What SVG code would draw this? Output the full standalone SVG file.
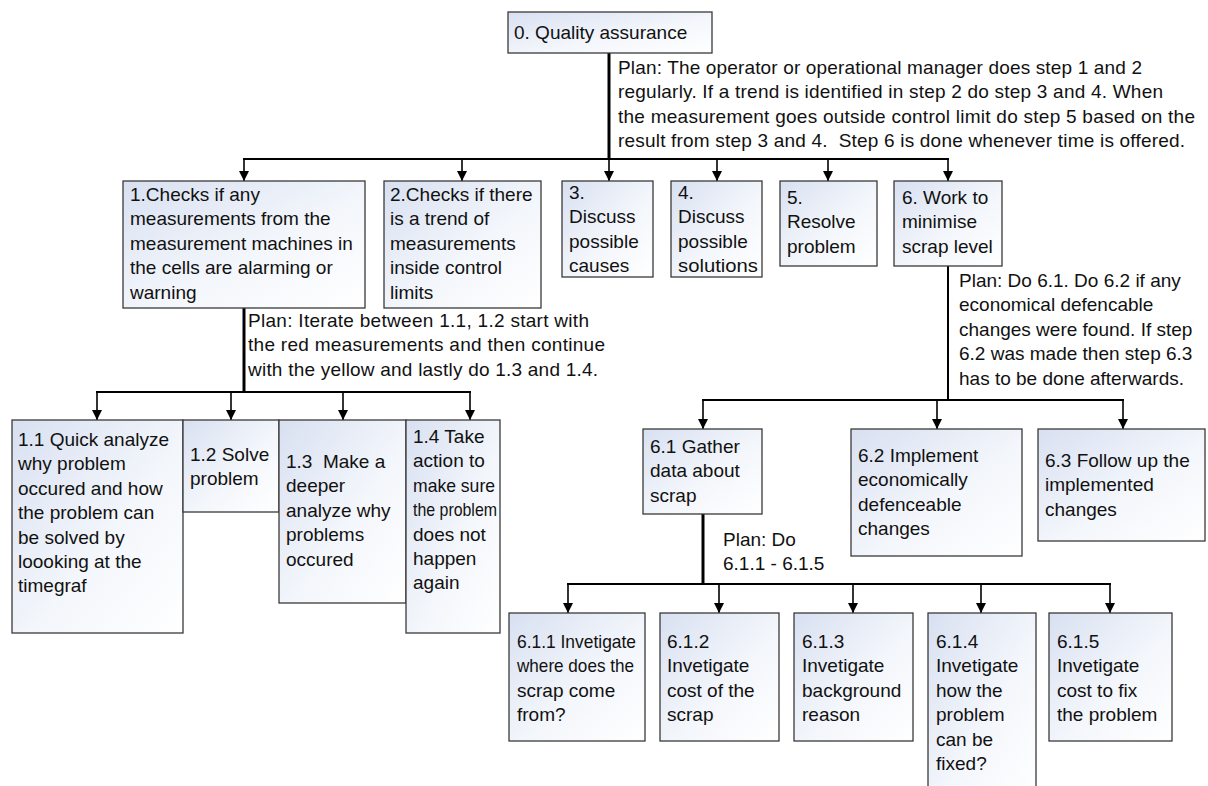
<svg xmlns="http://www.w3.org/2000/svg" width="1208" height="786" viewBox="0 0 1208 786">
  <defs>
    <linearGradient id="boxFill" x1="0" y1="0" x2="1" y2="1">
      <stop offset="0" stop-color="#d8e0f1"/>
      <stop offset="0.55" stop-color="#f3f6fb"/>
      <stop offset="1" stop-color="#ffffff"/>
    </linearGradient>
    <marker id="arrow" viewBox="0 0 10 10" refX="10" refY="5" markerWidth="10" markerHeight="11" markerUnits="userSpaceOnUse" orient="auto">
      <path d="M0,0 L10,5 L0,10 z" fill="#000"/>
    </marker>
    <style>
      .box { fill: url(#boxFill); stroke: #3a3a3a; stroke-width: 1.3; }
      text { font-family: "Liberation Sans", Arial, sans-serif; font-size: 19px; fill: #111; }
      .fit { }
      .trunk { stroke: #000; stroke-width: 3; fill: none; }
      .bar { stroke: #000; stroke-width: 2; fill: none; }
      .drop { stroke: #000; stroke-width: 1.6; fill: none; marker-end: url(#arrow); }
    </style>
  </defs>

  <rect width="1208" height="786" fill="#ffffff"/>

  <!-- connectors -->
  <g id="connectors">
    <!-- from 0 -->
    <line class="trunk" x1="609" y1="53" x2="609" y2="160"/>
    <line class="bar" x1="243" y1="159" x2="949" y2="159"/>
    <line class="drop" x1="244" y1="159" x2="244" y2="181"/>
    <line class="drop" x1="462" y1="159" x2="462" y2="181"/>
    <line class="drop" x1="609" y1="159" x2="609" y2="181"/>
    <line class="drop" x1="717" y1="159" x2="717" y2="181"/>
    <line class="drop" x1="828" y1="159" x2="828" y2="181"/>
    <line class="drop" x1="948" y1="159" x2="948" y2="181"/>
    <!-- from 1 -->
    <line class="trunk" x1="244" y1="308" x2="244" y2="393"/>
    <line class="bar" x1="96" y1="392" x2="471" y2="392"/>
    <line class="drop" x1="97" y1="392" x2="97" y2="420"/>
    <line class="drop" x1="231" y1="392" x2="231" y2="420"/>
    <line class="drop" x1="343" y1="392" x2="343" y2="420"/>
    <line class="drop" x1="470" y1="392" x2="470" y2="420"/>
    <!-- from 6 -->
    <line class="bar" x1="948" y1="266" x2="948" y2="401"/>
    <line class="bar" x1="702" y1="400" x2="1124" y2="400"/>
    <line class="drop" x1="703" y1="400" x2="703" y2="429"/>
    <line class="drop" x1="937" y1="400" x2="937" y2="429"/>
    <line class="drop" x1="1123" y1="400" x2="1123" y2="429"/>
    <!-- from 6.1 -->
    <line class="trunk" x1="703" y1="514" x2="703" y2="585"/>
    <line class="bar" x1="567" y1="584" x2="1111" y2="584"/>
    <line class="drop" x1="568" y1="584" x2="568" y2="613"/>
    <line class="drop" x1="719" y1="584" x2="719" y2="613"/>
    <line class="drop" x1="853" y1="584" x2="853" y2="613"/>
    <line class="drop" x1="981" y1="584" x2="981" y2="613"/>
    <line class="drop" x1="1110" y1="584" x2="1110" y2="613"/>
  </g>

  <!-- plan labels -->
  <g id="plans">
    <text x="618" y="74">
      <tspan x="618" dy="0" textLength="524">Plan: The operator or operational manager does step 1 and 2</tspan>
      <tspan x="618" dy="24.4" textLength="545">regularly. If a trend is identified in step 2 do step 3 and 4. When</tspan>
      <tspan x="618" dy="24.4" textLength="577">the measurement goes outside control limit do step 5 based on the</tspan>
      <tspan x="618" dy="24.4" textLength="567">result from step 3 and 4.&#160; Step 6 is done whenever time is offered.</tspan>
    </text>
    <text x="248" y="327">
      <tspan x="248" dy="0" textLength="341">Plan: Iterate between 1.1, 1.2 start with</tspan>
      <tspan x="248" dy="24.4" textLength="357">the red measurements and then continue</tspan>
      <tspan x="248" dy="24.4" textLength="350">with the yellow and lastly do 1.3 and 1.4.</tspan>
    </text>
    <text x="959" y="287">
      <tspan x="959" dy="0">Plan: Do 6.1. Do 6.2 if any</tspan>
      <tspan x="959" dy="24.4">economical defencable</tspan>
      <tspan x="959" dy="24.4">changes were found. If step</tspan>
      <tspan x="959" dy="24.4">6.2 was made then step 6.3</tspan>
      <tspan x="959" dy="24.4">has to be done afterwards.</tspan>
    </text>
    <text x="723" y="546">
      <tspan x="723" dy="0">Plan: Do</tspan>
      <tspan x="723" dy="24.4">6.1.1 - 6.1.5</tspan>
    </text>
  </g>

  <!-- level 0 -->
  <g id="n0">
    <rect class="box" x="508" y="12" width="204" height="41"/>
    <text x="514" y="39">0. Quality assurance</text>
  </g>

  <!-- level 1 -->
  <g id="n1">
    <rect class="box" x="123" y="181" width="242" height="127"/>
    <text x="130" y="201">
      <tspan x="130" dy="0">1.Checks if any</tspan>
      <tspan x="130" dy="24.4">measurements from the</tspan>
      <tspan x="130" dy="24.4">measurement machines in</tspan>
      <tspan x="130" dy="24.4">the cells are alarming or</tspan>
      <tspan x="130" dy="24.4">warning</tspan>
    </text>
  </g>
  <g id="n2">
    <rect class="box" x="384" y="181" width="157" height="127"/>
    <text x="390" y="201">
      <tspan x="390" dy="0">2.Checks if there</tspan>
      <tspan x="390" dy="24.4">is a trend of</tspan>
      <tspan x="390" dy="24.4">measurements</tspan>
      <tspan x="390" dy="24.4">inside control</tspan>
      <tspan x="390" dy="24.4">limits</tspan>
    </text>
  </g>
  <g id="n3">
    <rect class="box" x="562" y="181" width="91" height="96"/>
    <text x="569" y="199">
      <tspan x="569" dy="0">3.</tspan>
      <tspan x="569" dy="24.4">Discuss</tspan>
      <tspan x="569" dy="24.4">possible</tspan>
      <tspan x="569" dy="24.4">causes</tspan>
    </text>
  </g>
  <g id="n4">
    <rect class="box" x="671" y="181" width="91" height="96"/>
    <text x="678" y="199">
      <tspan x="678" dy="0">4.</tspan>
      <tspan x="678" dy="24.4">Discuss</tspan>
      <tspan x="678" dy="24.4">possible</tspan>
      <tspan x="678" dy="24.4" textLength="80" lengthAdjust="spacingAndGlyphs">solutions</tspan>
    </text>
  </g>
  <g id="n5">
    <rect class="box" x="780" y="181" width="97" height="85"/>
    <text x="787" y="204">
      <tspan x="787" dy="0">5.</tspan>
      <tspan x="787" dy="24.4">Resolve</tspan>
      <tspan x="787" dy="24.4">problem</tspan>
    </text>
  </g>
  <g id="n6">
    <rect class="box" x="894" y="181" width="108" height="85"/>
    <text x="902" y="204">
      <tspan x="902" dy="0">6. Work to</tspan>
      <tspan x="902" dy="24.4">minimise</tspan>
      <tspan x="902" dy="24.4">scrap level</tspan>
    </text>
  </g>

  <!-- level 2 under 1 -->
  <g id="n1_1">
    <rect class="box" x="12" y="420" width="171" height="213"/>
    <text x="18" y="446">
      <tspan x="18" dy="0">1.1 Quick analyze</tspan>
      <tspan x="18" dy="24.4">why problem</tspan>
      <tspan x="18" dy="24.4">occured and how</tspan>
      <tspan x="18" dy="24.4">the problem can</tspan>
      <tspan x="18" dy="24.4">be solved by</tspan>
      <tspan x="18" dy="24.4">loooking at the</tspan>
      <tspan x="18" dy="24.4">timegraf</tspan>
    </text>
  </g>
  <g id="n1_2">
    <rect class="box" x="183" y="420" width="96" height="92"/>
    <text x="190" y="461">
      <tspan x="190" dy="0">1.2 Solve</tspan>
      <tspan x="190" dy="24.4">problem</tspan>
    </text>
  </g>
  <g id="n1_3">
    <rect class="box" x="279" y="420" width="127" height="183"/>
    <text x="286" y="468">
      <tspan x="286" dy="0">1.3&#160; Make a</tspan>
      <tspan x="286" dy="24.4">deeper</tspan>
      <tspan x="286" dy="24.4">analyze why</tspan>
      <tspan x="286" dy="24.4">problems</tspan>
      <tspan x="286" dy="24.4">occured</tspan>
    </text>
  </g>
  <g id="n1_4">
    <rect class="box" x="406" y="420" width="94" height="213"/>
    <text x="413" y="443">
      <tspan x="413" dy="0">1.4 Take</tspan>
      <tspan x="413" dy="24.4">action to</tspan>
      <tspan x="413" dy="24.4" textLength="82" lengthAdjust="spacingAndGlyphs">make sure</tspan>
      <tspan x="413" dy="24.4" textLength="84" lengthAdjust="spacingAndGlyphs">the problem</tspan>
      <tspan x="413" dy="24.4">does not</tspan>
      <tspan x="413" dy="24.4">happen</tspan>
      <tspan x="413" dy="24.4">again</tspan>
    </text>
  </g>

  <!-- level 2 under 6 -->
  <g id="n6_1">
    <rect class="box" x="643" y="429" width="119" height="85"/>
    <text x="650" y="453">
      <tspan x="650" dy="0">6.1 Gather</tspan>
      <tspan x="650" dy="24.4">data about</tspan>
      <tspan x="650" dy="24.4">scrap</tspan>
    </text>
  </g>
  <g id="n6_2">
    <rect class="box" x="851" y="429" width="171" height="127"/>
    <text x="858" y="462">
      <tspan x="858" dy="0">6.2 Implement</tspan>
      <tspan x="858" dy="24.4">economically</tspan>
      <tspan x="858" dy="24.4">defenceable</tspan>
      <tspan x="858" dy="24.4">changes</tspan>
    </text>
  </g>
  <g id="n6_3">
    <rect class="box" x="1038" y="429" width="167" height="112"/>
    <text x="1045" y="467">
      <tspan x="1045" dy="0">6.3 Follow up the</tspan>
      <tspan x="1045" dy="24.4">implemented</tspan>
      <tspan x="1045" dy="24.4">changes</tspan>
    </text>
  </g>

  <!-- level 3 under 6.1 -->
  <g id="n6_1_1">
    <rect class="box" x="509" y="613" width="136" height="128"/>
    <text x="517" y="648">
      <tspan x="517" dy="0" textLength="119" lengthAdjust="spacingAndGlyphs">6.1.1 Invetigate</tspan>
      <tspan x="517" dy="24.4" textLength="117" lengthAdjust="spacingAndGlyphs">where does the</tspan>
      <tspan x="517" dy="24.4">scrap come</tspan>
      <tspan x="517" dy="24.4">from?</tspan>
    </text>
  </g>
  <g id="n6_1_2">
    <rect class="box" x="660" y="613" width="119" height="128"/>
    <text x="667" y="648">
      <tspan x="667" dy="0">6.1.2</tspan>
      <tspan x="667" dy="24.4">Invetigate</tspan>
      <tspan x="667" dy="24.4">cost of the</tspan>
      <tspan x="667" dy="24.4">scrap</tspan>
    </text>
  </g>
  <g id="n6_1_3">
    <rect class="box" x="794" y="613" width="119" height="128"/>
    <text x="802" y="648">
      <tspan x="802" dy="0">6.1.3</tspan>
      <tspan x="802" dy="24.4">Invetigate</tspan>
      <tspan x="802" dy="24.4">background</tspan>
      <tspan x="802" dy="24.4">reason</tspan>
    </text>
  </g>
  <g id="n6_1_4">
    <rect class="box" x="928" y="613" width="108" height="185"/>
    <text x="936" y="648">
      <tspan x="936" dy="0">6.1.4</tspan>
      <tspan x="936" dy="24.4">Invetigate</tspan>
      <tspan x="936" dy="24.4">how the</tspan>
      <tspan x="936" dy="24.4">problem</tspan>
      <tspan x="936" dy="24.4">can be</tspan>
      <tspan x="936" dy="24.4">fixed?</tspan>
    </text>
  </g>
  <g id="n6_1_5">
    <rect class="box" x="1049" y="613" width="123" height="128"/>
    <text x="1057" y="648">
      <tspan x="1057" dy="0">6.1.5</tspan>
      <tspan x="1057" dy="24.4">Invetigate</tspan>
      <tspan x="1057" dy="24.4">cost to fix</tspan>
      <tspan x="1057" dy="24.4">the problem</tspan>
    </text>
  </g>
</svg>
